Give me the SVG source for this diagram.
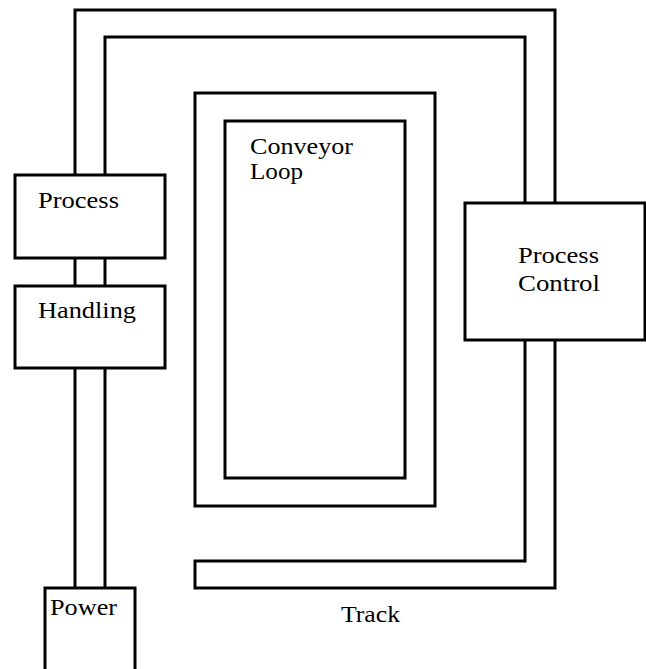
<svg xmlns="http://www.w3.org/2000/svg" width="646" height="669" viewBox="0 0 646 669">
<style>
.ln{fill:none;stroke:#000;stroke-width:3;stroke-linejoin:miter}
.bx{fill:#fff;stroke:#000;stroke-width:3}
.t{font-family:"Liberation Serif","Times New Roman",serif;font-size:24px;fill:#000}
</style>
<rect width="646" height="669" fill="#fff"/>
<g id="connectors">
<path class="ln" d="M75,588 V10 H555 V588 H195 V561 H525 V37 H105 V588"/>
</g>
<g id="conveyor-loop">
<rect class="bx" x="195" y="93" width="240" height="413"/>
<rect class="bx" x="225" y="121" width="180" height="357"/>
<text class="t" x="250" y="154" textLength="103" lengthAdjust="spacingAndGlyphs">Conveyor</text>
<text class="t" x="250" y="179" textLength="53" lengthAdjust="spacingAndGlyphs">Loop</text>
</g>
<g id="process">
<rect class="bx" x="15" y="175" width="150" height="83"/>
<text class="t" x="38" y="208" textLength="81" lengthAdjust="spacingAndGlyphs">Process</text>
</g>
<g id="handling">
<rect class="bx" x="15" y="286" width="150" height="82"/>
<text class="t" x="38" y="318" textLength="98" lengthAdjust="spacingAndGlyphs">Handling</text>
</g>
<g id="process-control">
<rect class="bx" x="465" y="203" width="180" height="137"/>
<text class="t" x="518" y="263" textLength="81" lengthAdjust="spacingAndGlyphs">Process</text>
<text class="t" x="518" y="291" textLength="82" lengthAdjust="spacingAndGlyphs">Control</text>
</g>
<g id="power">
<path class="bx" d="M45,672 V588 H135 V672"/>
<text class="t" x="50" y="615" textLength="67" lengthAdjust="spacingAndGlyphs">Power</text>
</g>
<g id="track-label">
<text class="t" x="341" y="622" textLength="59" lengthAdjust="spacingAndGlyphs">Track</text>
</g>
</svg>
